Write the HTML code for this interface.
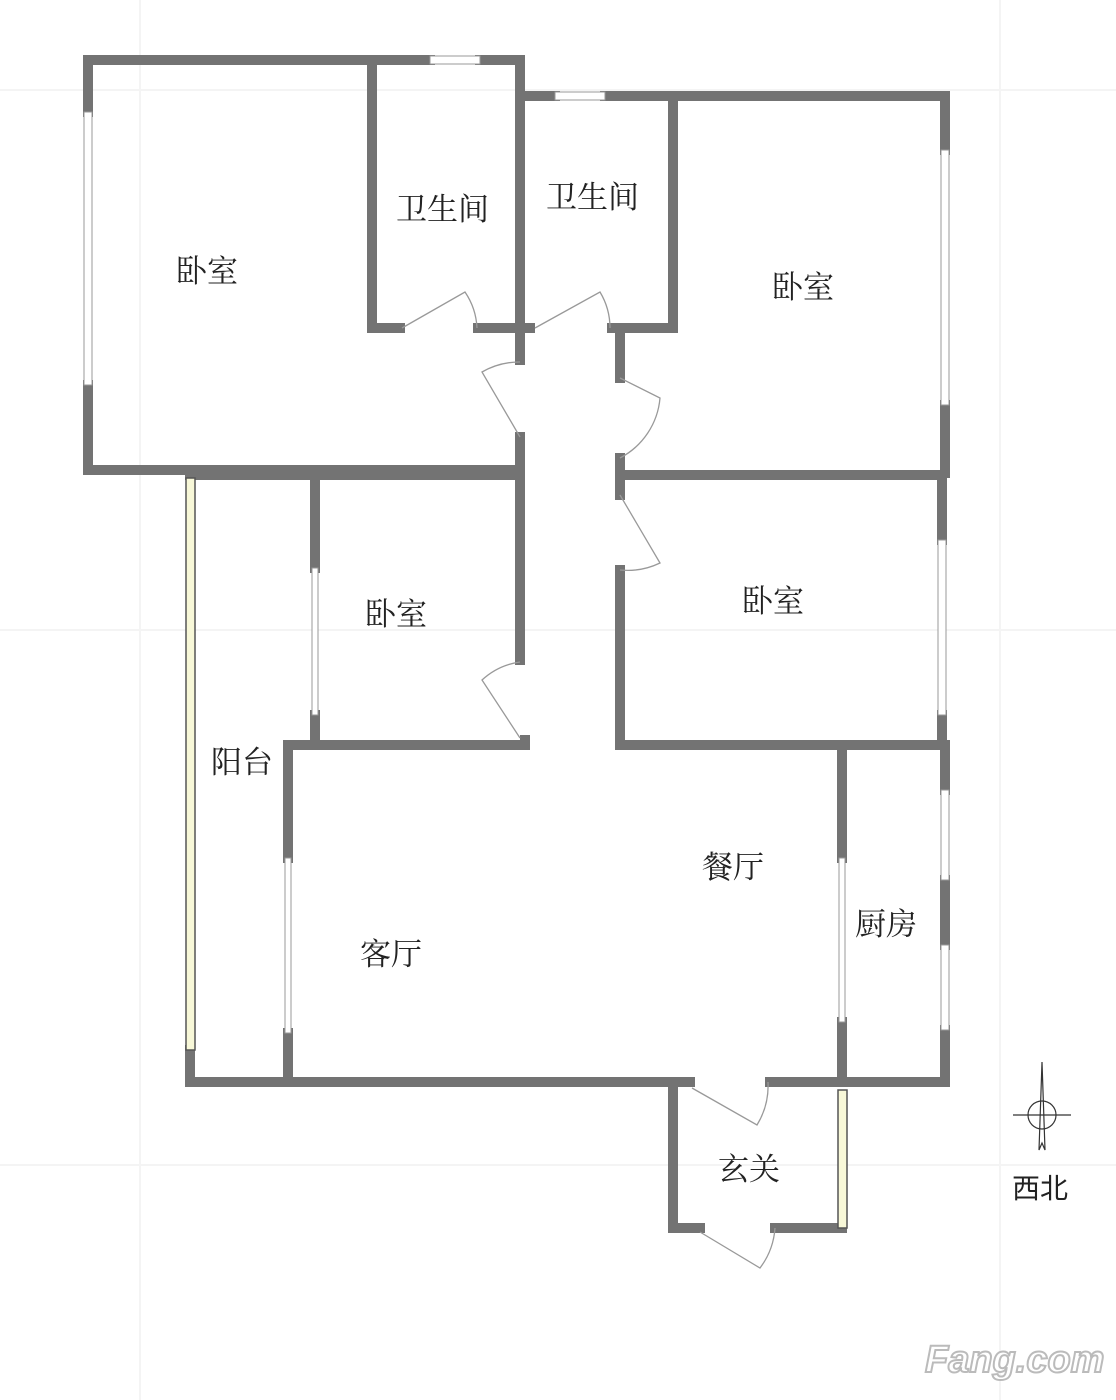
<!DOCTYPE html>
<html><head><meta charset="utf-8"><style>
html,body{margin:0;padding:0;background:#fff;}
svg{display:block}
text{font-family:"Liberation Serif","Noto Serif CJK SC","Noto Sans CJK SC",serif;fill:#222;font-size:31px}
</style></head><body>
<svg width="1116" height="1400" viewBox="0 0 1116 1400" xmlns="http://www.w3.org/2000/svg">
<g stroke="#f4f4f4" stroke-width="2">
<line x1="0" y1="90" x2="1116" y2="90"/><line x1="0" y1="630" x2="1116" y2="630"/><line x1="0" y1="1165" x2="1116" y2="1165"/>
<line x1="140" y1="0" x2="140" y2="1400"/><line x1="1000" y1="0" x2="1000" y2="1400"/>
</g>
<g stroke="#737373" stroke-width="10" fill="none" stroke-linecap="square">
<path d="M88 112 V60 H430 M480 60 H520 V360"/>
<path d="M88 385 V470 H515"/>
<path d="M372 62 V328 H400 M478 328 H530"/>
<path d="M520 437 V660"/>
<path d="M525 96 H555 M605 96 H945 V150"/>
<path d="M945 405 V473"/>
<path d="M673 96 V328 H612"/>
<path d="M620 328 V378 M620 458 V495 M620 570 V745 H942"/>
<path d="M620 475 H942 V540 M942 715 V745"/>
<path d="M190 475 H520"/>
<path d="M315 478 V568 M315 715 V745"/>
<path d="M288 745 H525 V740"/>
<path d="M190 1050 V1082 H690 M770 1082 H945 V1030"/>
<path d="M288 745 V858 M288 1033 V1080"/>
<path d="M842 752 V858 M842 1022 V1082"/>
<path d="M945 745 V790 M945 880 V945"/>
<path d="M673 1085 V1228 H700 M775 1228 H842"/>
</g>
<g fill="#fff" stroke="#999" stroke-width="1">
<rect x="84" y="112" width="8" height="273"/>
<rect x="430" y="56" width="50" height="8"/>
<rect x="555" y="92" width="50" height="8"/>
<rect x="941" y="150" width="8" height="255"/>
<rect x="938" y="540" width="8" height="175"/>
<rect x="941" y="790" width="8" height="90"/>
<rect x="941" y="945" width="8" height="85"/>
<rect x="312" y="568" width="6" height="147"/>
<rect x="285" y="858" width="6" height="175"/>
<rect x="839" y="858" width="6" height="164"/>
</g>
<g fill="#f8f8d8" stroke="#555" stroke-width="1.5">
<rect x="186" y="478" width="9" height="572"/>
<rect x="838" y="1090" width="9" height="138"/>
</g>
<g fill="none" stroke="#999" stroke-width="1.3">
<path d="M402 328 L465 292 A70 70 0 0 1 477 328"/>
<path d="M535 328 L600 292 A70 70 0 0 1 610 328"/>
<path d="M520 437 L482 372 A75 75 0 0 1 520 362"/>
<path d="M620 378 L660 398 A75 75 0 0 1 620 458"/>
<path d="M620 495 L660 563 A75 75 0 0 1 620 570"/>
<path d="M520 738 L482 680 A70 70 0 0 1 520 662"/>
<path d="M692 1088 L757 1125 A75 75 0 0 0 768 1082"/>
<path d="M700 1232 L760 1268 A75 75 0 0 0 775 1228"/>
</g>
<g stroke="#333" fill="none" stroke-width="1.2">
<line x1="1013" y1="1115" x2="1071" y2="1115"/>
<circle cx="1042" cy="1115" r="14"/>
<path d="M1042 1062 L1039 1150 L1042 1143 L1045 1150 Z"/>
</g>
<text x="176" y="282">卧室</text>
<text x="396" y="220">卫生间</text>
<text x="546" y="208">卫生间</text>
<text x="772" y="298">卧室</text>
<text x="365" y="625">卧室</text>
<text x="742" y="612">卧室</text>
<text x="211" y="773">阳台</text>
<text x="702" y="878">餐厅</text>
<text x="855" y="935">厨房</text>
<text x="360" y="965">客厅</text>
<text x="718" y="1180">玄关</text>
<text x="1012" y="1198" style="font-family:'Noto Sans CJK SC',sans-serif;font-size:28px">西北</text>
<text x="925" y="1372" style="font-family:'Liberation Sans',sans-serif;font-weight:bold;font-style:italic;font-size:38px;fill:#fff;stroke:#bbb;stroke-width:2">Fang.com</text>
</svg>
</body></html>
